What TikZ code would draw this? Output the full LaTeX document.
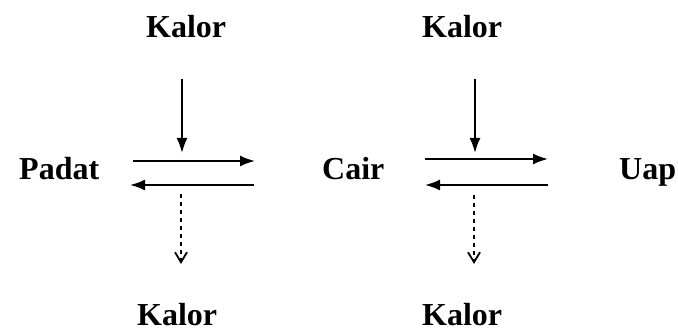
\documentclass[tikz,border=0pt]{standalone}
\usepackage{fontspec}
\setmainfont{Liberation Serif}
\usetikzlibrary{arrows.meta}
\begin{document}
\begin{tikzpicture}[x=1pt,y=1pt,
  lbl/.style={font=\fontsize{32}{38}\selectfont\bfseries, inner sep=0pt, anchor=base west},
  solidarr/.style={line width=2pt, -{Latex[length=15pt,width=11pt]}},
  dasharr/.style={line width=1.8pt, dash pattern=on 4.5pt off 3.5pt, -{Straight Barb[length=10pt,width=12pt,line width=1.8pt]}}]
\useasboundingbox (0,0) rectangle (678,334);
% labels
\node[lbl] (k1) at (146,296) {Kalor};
\node[lbl] (k2) at (422,296) {Kalor};
\node[lbl] (k3) at (137,8) {Kalor};
\node[lbl] (k4) at (422,8) {Kalor};
\node[lbl] (padat) at (19,154) {Padat};
\node[lbl] (cair) at (322,154) {Cair};
\node[lbl] (uap) at (619,154) {Uap};
% left block coordinates
\coordinate (a1s) at (182,255); \coordinate (a1e) at (182,181);
\coordinate (h1s) at (133,173); \coordinate (h1e) at (255,173);
\coordinate (h2s) at (254,149); \coordinate (h2e) at (130,149);
\coordinate (d1s) at (181,140); \coordinate (d1e) at (181,70);
% right block coordinates
\coordinate (a2s) at (475,255); \coordinate (a2e) at (475,181);
\coordinate (h3s) at (425,175); \coordinate (h3e) at (548,175);
\coordinate (h4s) at (548,149); \coordinate (h4e) at (425,149);
\coordinate (d2s) at (474,139); \coordinate (d2e) at (474,70);
% arrows
\draw[solidarr] (a1s) -- (a1e);
\draw[solidarr] (h1s) -- (h1e);
\draw[solidarr] (h2s) -- (h2e);
\draw[dasharr] (d1s) -- (d1e);
\draw[solidarr] (a2s) -- (a2e);
\draw[solidarr] (h3s) -- (h3e);
\draw[solidarr] (h4s) -- (h4e);
\draw[dasharr] (d2s) -- (d2e);
\end{tikzpicture}
\end{document}
